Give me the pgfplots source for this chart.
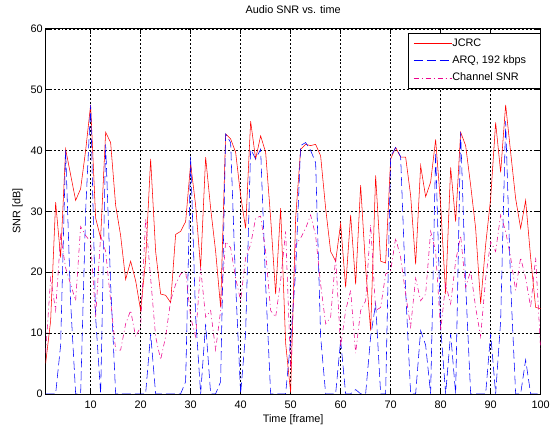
\documentclass[border=0pt]{standalone}
\usepackage{fontspec}
\setmainfont{Liberation Sans}
\usepackage{pgfplots}
\pgfplotsset{compat=1.18}
\begin{document}
\begin{tikzpicture}
\begin{axis}[
  scale only axis, width=499bp, height=368bp,
  xmin=1, xmax=100, ymin=0, ymax=60,
  xtick={10,20,...,100}, ytick={0,10,...,60},
  tick align=inside, major tick length=5bp,
  xmajorgrids, ymajorgrids,
  grid style={black, dash pattern=on 2bp off 2bp, line width=0.5pt},
  axis line style={black, line width=0.6pt},
  tick style={black, line width=0.5pt},
  /pgf/number format/assume math mode=true,
  ticklabel style={font=\fontsize{11}{13}\selectfont},
  xticklabel style={anchor=base, yshift=-14.4bp},
  yticklabel style={anchor=east, xshift=0.5bp},
  title={Audio SNR vs. time},
  title style={font=\fontsize{11}{13}\selectfont, at={(axis description cs:0.5,1.0264)}, anchor=base},
  xlabel={Time [frame]}, ylabel={SNR [dB]},
  label style={font=\fontsize{11}{13}\selectfont},
  xlabel style={at={(axis description cs:0.5,-0.0793)}, anchor=base},
  ylabel style={at={(axis description cs:-0.0511,0.5)}, anchor=base},
  legend style={at={(axis description cs:1,1)}, anchor=north east, xshift=-0.5bp, yshift=-4.3bp,
    font=\fontsize{11}{13}\selectfont,
    inner xsep=6bp, inner ysep=5bp, row sep=7bp, column sep=0bp,
    nodes={inner sep=0pt, text height=8bp, text depth=2.5bp},
    legend cell align=left},
  legend image code/.code={\draw[#1] (0bp,0bp) -- (36.7bp,0bp); \path (0bp,0bp) -- (38.4bp,0bp);},
  every axis plot/.append style={line width=0.55pt},
]
\addplot[red, solid] coordinates {
(1,5) (2,12) (3,31.5) (4,22.4) (5,40.2) (6,36) (7,31.8) (8,33.7) (9,40) (10,47.5)
(11,28.9) (12,25.6) (13,43) (14,41.3) (15,31) (16,26) (17,18.8) (18,21.8) (19,18.6) (20,13.7)
(21,22) (22,38.6) (23,23.4) (24,16.4) (25,16.2) (26,15) (27,26.2) (28,26.7) (29,28.3) (30,37.8)
(31,31) (32,20.7) (33,38.9) (34,30.5) (35,23.4) (36,14.2) (37,42.7) (38,41.9) (39,39.7) (40,32.6)
(41,27.2) (42,44.8) (43,38.6) (44,42.4) (45,39.7) (46,28.9) (47,16.4) (48,30.5) (49,8.3) (50,0.2)
(51,28.9) (52,40.2) (53,41) (54,40.8) (55,41) (56,39.1) (57,30.5) (58,23.4) (59,21.8) (60,28)
(61,17.5) (62,29.4) (63,18) (64,34.3) (65,20.7) (66,10.4) (67,35.9) (68,21.8) (69,21.5) (70,38.6)
(71,40.5) (72,38.9) (73,38.9) (74,32.6) (75,21.3) (76,37.5) (77,32.4) (78,34.8) (79,41.8) (80,31)
(81,16.4) (82,37.2) (83,28.3) (84,43) (85,40.8) (86,34.3) (87,27.2) (88,14.8) (89,24.5) (90,32.1)
(91,44.6) (92,36.4) (93,47.5) (94,39.7) (95,32.1) (96,27.2) (97,31.8) (98,22.4) (99,14.2) (100,14)
};
\addlegendentry{JCRC}
\addplot[blue, dash pattern=on 9bp off 4bp] coordinates {
(1,0) (2,0) (3,0) (4,8) (5,40) (6,15) (7,0) (8,0) (9,30) (10,47.5)
(11,12.6) (12,0) (13,41) (14,18) (15,0) (16,0) (17,0) (18,0) (19,0) (20,0)
(21,0) (22,9.9) (23,0) (24,0) (25,0) (26,0) (27,0) (28,0) (29,2) (30,39)
(31,12.6) (32,0) (33,11.5) (34,0) (35,0) (36,2) (37,42.7) (38,41.3) (39,18) (40,0)
(41,10) (42,40.2) (43,38.6) (44,40.2) (45,18) (46,0) (47,0) (48,0) (49,0) (50,8.8)
(51,20) (52,40.8) (53,41.3) (54,40) (55,38) (56,9.4) (57,0) (58,0) (59,0) (60,8.8)
(61,0) (62,0) (63,0.7) (64,0) (65,0) (66,9.4) (67,14.8) (68,0) (69,0) (70,39)
(71,40.5) (72,39) (73,17) (74,0) (75,0) (76,10.4) (77,8) (78,0) (79,39.7) (80,11)
(81,0) (82,9.9) (83,0) (84,43) (85,18) (86,0) (87,0) (88,0) (89,0) (90,9.9)
(91,0) (92,12) (93,44.8) (94,18) (95,0) (96,0) (97,5.6) (98,0) (99,0) (100,0)
};
\addlegendentry{ARQ, 192 kbps\hspace*{8bp}}
\addplot[magenta, dash pattern=on 5bp off 3bp on 1bp off 3bp] coordinates {
(1,6.7) (2,19) (3,13.7) (4,26) (5,20.7) (6,18) (7,15.3) (8,27.5) (9,26) (10,25)
(11,12.6) (12,26) (13,23.4) (14,15.3) (15,7.2) (16,7.2) (17,11.5) (18,13.7) (19,9.4) (20,11)
(21,28.9) (22,19) (23,9.4) (24,5.6) (25,9.4) (26,15.3) (27,18) (28,19.7) (29,20.2) (30,12.6)
(31,9.4) (32,20.7) (33,12.6) (34,13.7) (35,7.2) (36,13.7) (37,25) (38,24) (39,19) (40,15.3)
(41,22.4) (42,24.5) (43,28.9) (44,29.2) (45,23.4) (46,13.7) (47,12.6) (48,18.6) (49,26.7) (50,4)
(51,24.5) (52,25.6) (53,27.2) (54,29.4) (55,26) (56,18) (57,11.5) (58,12.6) (59,22.4) (60,7.7)
(61,13.7) (62,17) (63,6.7) (64,13.7) (65,15.3) (66,27.8) (67,13.7) (68,14.2) (69,19.7) (70,20.2)
(71,25.6) (72,22.4) (73,16.4) (74,11) (75,19) (76,15.3) (77,16.4) (78,26.7) (79,23.4) (80,10.4)
(81,18) (82,14.8) (83,21.8) (84,26) (85,17.5) (86,20.2) (87,14.2) (88,9.4) (89,19) (90,25)
(91,23.4) (92,29.4) (93,26.7) (94,22.4) (95,17) (96,22.4) (97,19) (98,14.2) (99,22.4) (100,7.2)
};
\addlegendentry{Channel SNR}
\end{axis}
\path[use as bounding box] (-46bp,-30bp) rectangle (507bp,397bp);
\end{tikzpicture}
\end{document}
